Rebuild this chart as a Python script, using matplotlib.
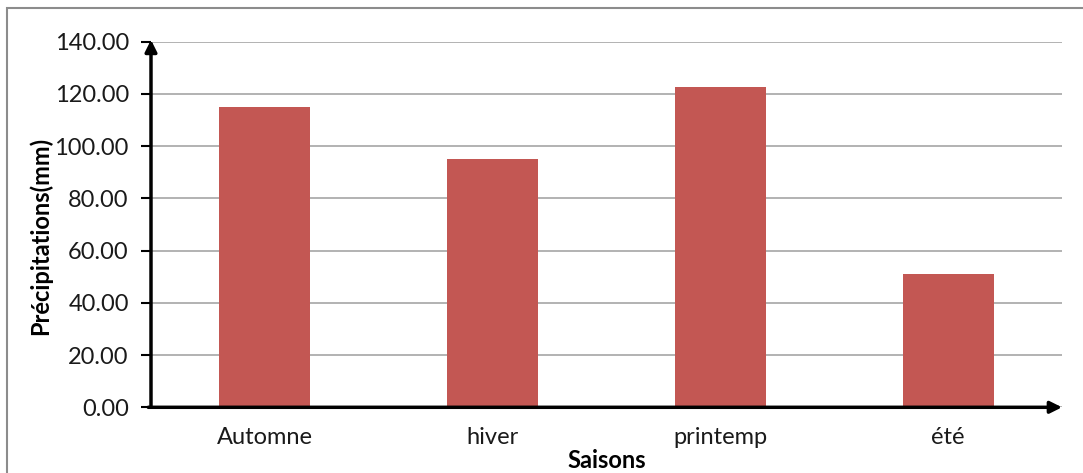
import matplotlib
matplotlib.use("Agg")
import matplotlib.pyplot as plt
from matplotlib.patches import Rectangle

seasons = ["Automne", "hiver", "printemp", "été"]
precip = [115.0, 95.0, 122.5, 51.2]
y_ticks = [0, 20, 40, 60, 80, 100, 120, 140]

plt.rcParams['font.family'] = ['Lato', 'DejaVu Sans']

W, H = 1083, 473
fig = plt.figure(figsize=(W / 100, H / 100), dpi=100)
fig.patch.set_facecolor("white")

# outer chart frame
fig.add_artist(Rectangle((7 / W, -0.1), 1.2, 1 - 8 / H + 0.1, transform=fig.transFigure,
                         fill=False, edgecolor="#8c8c8c", linewidth=1.5))

left, right = 151 / W, 1062 / W
bottom, top = 1 - 407.3 / H, 1 - 41.7 / H
ax = fig.add_axes([left, bottom, right - left, top - bottom])

x = range(len(seasons))
ax.bar(x, precip, width=0.40, color="#C35753", zorder=3)

ax.set_xlim(-0.5, len(seasons) - 0.5)
ax.set_ylim(0, 140)
ax.set_yticks(y_ticks)
ax.set_yticklabels([f"{v:.2f}" for v in y_ticks], fontsize=17, color="#1a1a1a")
ax.set_xticks(list(x))
ax.set_xticklabels(seasons, fontsize=17, color="#1a1a1a")
ax.tick_params(axis="x", length=0, pad=14)
ax.tick_params(axis="y", length=7, width=1.5, color="black", pad=9)

ax.yaxis.grid(True, color="#a6a6a6", linewidth=1.2, zorder=0)
ax.set_axisbelow(True)
for s in ax.spines.values():
    s.set_visible(False)

# axis lines with arrowheads
ax.annotate("", xy=(0, 1.005), xytext=(0, 0), xycoords="axes fraction",
            arrowprops=dict(arrowstyle="-|>,head_length=0.7,head_width=0.35",
                            color="black", lw=2.5, shrinkA=0, shrinkB=0), zorder=5)
ax.annotate("", xy=(1.0, 0), xytext=(-0.003, 0), xycoords="axes fraction",
            arrowprops=dict(arrowstyle="-|>,head_length=0.7,head_width=0.35",
                            color="black", lw=2.5, shrinkA=0, shrinkB=0), zorder=5)

ax.set_xlabel("Saisons", fontsize=17, fontweight="bold", labelpad=0)
ax.xaxis.set_label_coords(0.5, -0.115)
ax.set_ylabel("Précipitations(mm)", fontsize=17, fontweight="bold")
ax.yaxis.set_label_coords(-99 / (right - left) / W, 0.47)

fig.savefig("out.png", dpi=100, facecolor="white")
